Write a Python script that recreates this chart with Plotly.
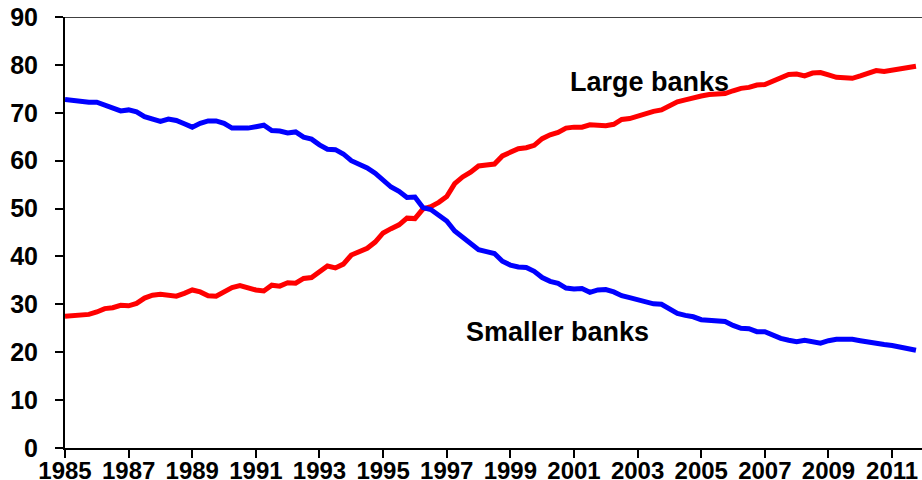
import plotly.graph_objects as go

start_year = 1985
smaller_banks = [
    72.8, 72.6, 72.3, 72.2, 72.2, 71.6, 71.1, 70.4, 70.6, 70.2,
    69.2, 68.6, 68.2, 68.7, 68.4, 67.7, 67.0, 67.8, 68.3, 68.3,
    67.8, 66.8, 66.7, 66.8, 67.1, 67.4, 66.3, 66.2, 65.8, 66.0,
    64.9, 64.5, 63.3, 62.4, 62.3, 61.4, 60.0, 59.3, 58.5, 57.4,
    56.0, 54.5, 53.6, 52.3, 52.4, 50.2, 49.8, 48.6, 47.4, 45.3,
    43.9, 42.5, 41.4, 41.0, 40.6, 39.0, 38.2, 37.8, 37.7, 36.9,
    35.6, 34.8, 34.4, 33.4, 33.2, 33.3, 32.5, 33.0, 33.1, 32.6,
    31.8, 31.4, 31.0, 30.4, 30.1, 30.0, 28.9, 28.1, 27.7, 27.4,
    26.8, 26.6, 26.5, 26.4, 25.6, 25.0, 24.9, 24.3, 24.3, 23.6,
    22.9, 22.5, 22.2, 22.5, 22.2, 21.9, 22.4, 22.7, 22.7, 22.7,
    22.4, 22.1, 21.7, 21.6, 21.4, 21.1, 20.7, 20.4,
]
large_banks = [
    27.5, 27.6, 27.8, 27.9, 28.4, 29.1, 29.3, 29.8, 29.7, 30.2,
    31.3, 31.9, 32.1, 31.8, 31.7, 32.3, 33.0, 32.6, 31.8, 31.7,
    32.6, 33.5, 33.9, 33.4, 33.0, 32.8, 34.0, 33.8, 34.5, 34.4,
    35.4, 35.6, 36.8, 38.0, 37.6, 38.4, 40.3, 41.0, 41.7, 43.0,
    44.9, 45.8, 46.6, 48.0, 47.9, 49.9, 50.4, 51.3, 52.5, 55.2,
    56.6, 57.6, 58.9, 59.1, 59.3, 61.0, 61.8, 62.5, 62.7, 63.2,
    64.6, 65.4, 65.9, 66.8, 67.0, 67.0, 67.5, 67.3, 67.3, 67.6,
    68.6, 68.8, 69.3, 69.9, 70.3, 70.6, 71.6, 72.3, 72.7, 73.2,
    73.5, 73.8, 73.9, 74.0, 74.6, 75.1, 75.3, 75.8, 75.9, 76.6,
    77.3, 78.0, 78.1, 77.7, 78.3, 78.4, 77.9, 77.4, 77.3, 77.2,
    77.7, 78.2, 78.8, 78.6, 78.9, 79.1, 79.4, 79.7,
]
x_tick_values = list(range(1985, 2012, 2))
x_tick_labels = [str(y) for y in x_tick_values]
y_tick_values = list(range(0, 91, 10))

dates = [start_year + i / 4 for i in range(len(smaller_banks))]

font_family = "Arial, 'Liberation Sans', sans-serif"

fig = go.Figure()
fig.add_trace(go.Scatter(x=dates, y=large_banks, mode="lines", name="Large banks",
                         line=dict(color="#FF0000", width=5), hoverinfo="skip"))
fig.add_trace(go.Scatter(x=dates, y=smaller_banks, mode="lines", name="Smaller banks",
                         line=dict(color="#0000FF", width=5), hoverinfo="skip"))

fig.add_annotation(x=2003.36, y=76.4, text="Large banks", showarrow=False,
                   xanchor="center", yanchor="middle",
                   font=dict(family=font_family, size=27, color="black", weight=700))
fig.add_annotation(x=2000.48, y=24.2, text="Smaller banks", showarrow=False,
                   xanchor="center", yanchor="middle",
                   font=dict(family=font_family, size=27, color="black", weight=700))

# top border line
fig.add_shape(type="line", xref="paper", yref="y", x0=0, x1=1, y0=90, y1=90,
              line=dict(color="#404040", width=2))

fig.update_layout(
    width=922, height=480,
    margin=dict(l=65, r=0, t=17, b=32, autoexpand=False),
    plot_bgcolor="white", paper_bgcolor="white",
    showlegend=False,
    font=dict(family=font_family, color="black"),
)
fig.update_xaxes(
    range=[1985, 2011.94], tickmode="array", tickvals=x_tick_values, ticktext=x_tick_labels,
    automargin=False,
    showgrid=False, zeroline=False, showline=True, linecolor="black", linewidth=2,
    ticks="", 
    minor=dict(tickmode="array", tickvals=x_tick_values, ticks="outside", ticklen=8,
               tickwidth=2, tickcolor="black", showgrid=False),
    tickfont=dict(family=font_family, size=24, color="black", weight=700),
)
fig.update_yaxes(
    range=[0, 90], tickmode="array", tickvals=y_tick_values,
    automargin=False,
    showgrid=False, zeroline=False, showline=True, linecolor="black", linewidth=2,
    ticks="outside", ticklen=8, tickwidth=2, tickcolor="black",
    ticklabelstandoff=12,
    tickfont=dict(family=font_family, size=25, color="black", weight=700),
)

fig.write_html("out.html")
